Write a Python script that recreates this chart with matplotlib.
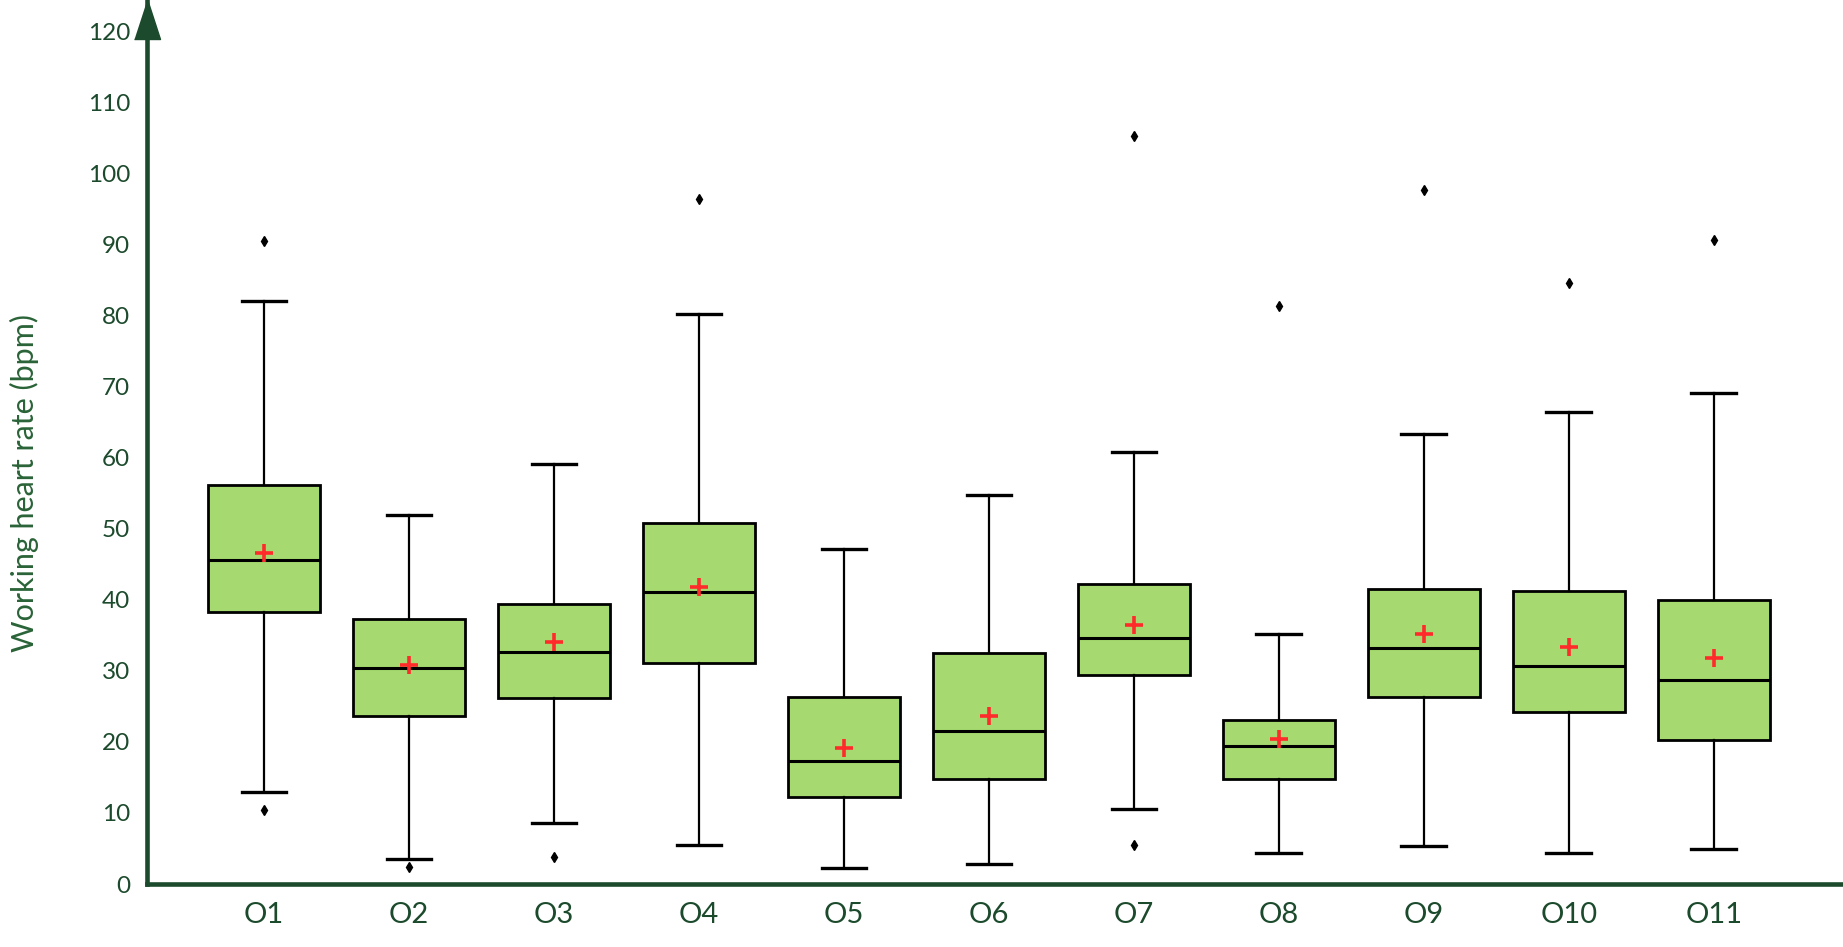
import numpy as np
import matplotlib
matplotlib.use('Agg')
import matplotlib.pyplot as plt

# values (bpm)
groups = ['O1', 'O2', 'O3', 'O4', 'O5', 'O6', 'O7', 'O8', 'O9', 'O10', 'O11']
whisker_low = [13.0, 3.5, 8.6, 5.5, 2.3, 2.8, 10.6, 4.4, 5.4, 4.4, 4.9]
q1 = [38.3, 23.7, 26.2, 31.1, 12.3, 14.8, 29.5, 14.8, 26.3, 24.2, 20.3]
medians = [45.6, 30.4, 32.7, 41.1, 17.3, 21.5, 34.7, 19.4, 33.2, 30.7, 28.7]
q3 = [56.2, 37.3, 39.4, 50.8, 26.3, 32.5, 42.3, 23.1, 41.5, 41.3, 40.0]
whisker_high = [82.1, 52.0, 59.2, 80.3, 47.2, 54.8, 60.9, 35.2, 63.4, 66.5, 69.1]
means = [46.6, 30.8, 34.1, 41.8, 19.2, 23.7, 36.5, 20.4, 35.2, 33.4, 31.8]
outliers = [
    [90.6, 10.4],
    [2.4],
    [3.8],
    [96.5],
    [],
    [],
    [105.3, 5.5],
    [81.4],
    [97.8],
    [84.6],
    [90.7],
]

DARK = '#1c4a2c'
LABEL = '#2a6338'
FILL = '#a6d96f'

plt.rcParams['font.family'] = ['Lato', 'DejaVu Sans']

fig = plt.figure(figsize=(18.43, 9.47), dpi=100)
ax = fig.add_axes([147 / 1843, 63 / 947, 1 - 147 / 1843, 1 - 63 / 947])

stats = []
for i, name in enumerate(groups):
    stats.append({
        'label': name,
        'whislo': whisker_low[i],
        'q1': q1[i],
        'med': medians[i],
        'q3': q3[i],
        'whishi': whisker_high[i],
        'mean': means[i],
        'fliers': np.array(outliers[i]),
    })

positions = np.arange(1, len(groups) + 1)
ax.bxp(
    stats,
    positions=positions,
    widths=0.77,
    capwidths=0.31,
    patch_artist=True,
    showmeans=True,
    boxprops=dict(facecolor=FILL, edgecolor='black', linewidth=2.0),
    medianprops=dict(color='black', linewidth=2.2),
    whiskerprops=dict(color='black', linewidth=1.6),
    capprops=dict(color='black', linewidth=2.4),
    meanprops=dict(marker='+', markeredgecolor='#ff2a2a', markersize=13,
                   markeredgewidth=2.6),
    flierprops=dict(marker='d', markerfacecolor='black', markeredgecolor='black',
                    markersize=5),
)

ax.set_xlim(0.193, 11.89)
ax.set_ylim(0, 124.5)
ax.set_yticks(np.arange(0, 121, 10))
ax.set_xticks(positions)
ax.set_xticklabels(groups)

for side in ['top', 'right']:
    ax.spines[side].set_visible(False)
for side in ['left', 'bottom']:
    ax.spines[side].set_color(DARK)
    ax.spines[side].set_linewidth(3.3)

ax.tick_params(axis='y', length=0, pad=12, labelsize=17.5, labelcolor=DARK)
ax.tick_params(axis='x', length=0, pad=13, labelsize=21, labelcolor=DARK)

# arrow head on top of the y axis
ax.plot([0.193], [121.8], marker=[(-0.325, -0.5), (0.325, -0.5), (0, 0.5)],
        markersize=28.8, color=DARK, clip_on=False, zorder=10)

fig.text(24 / 1843, 1 - 483 / 947, 'Working heart rate (bpm)', rotation=90,
         ha='center', va='center', fontsize=22, color=LABEL)

fig.savefig('out.png', dpi=100)
